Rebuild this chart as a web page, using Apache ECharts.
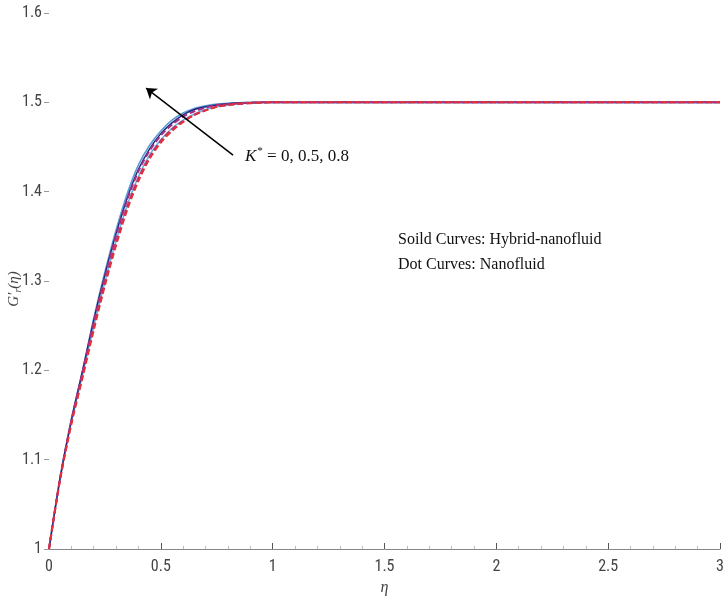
<!DOCTYPE html>
<html>
<head>
<meta charset="utf-8">
<script src="https://cdn.jsdelivr.net/npm/echarts@6/dist/echarts.min.js"></script>
<style>html,body{margin:0;padding:0;background:#fff}#c{width:724px;height:613px}</style>
</head>
<body>
<div id="c"></div>
<script>
// data
var eta = [0,0.05,0.1,0.15,0.2,0.25,0.3,0.35,0.4,0.45,0.5,0.55,0.6,0.65,0.7,0.75,0.8,0.85,0.9,0.95,1.0,1.1,1.2,1.5,2,2.5,3];
var hybridK08 = [1,1.080,1.145,1.200,1.258,1.310,1.357,1.398,1.430,1.452,1.468,1.480,1.488,1.493,1.496,1.498,1.499,1.4995,1.5,1.5,1.5,1.5,1.5,1.5,1.5,1.5,1.5];
var hybridK05 = [1,1.080,1.144,1.199,1.256,1.307,1.353,1.393,1.425,1.448,1.465,1.477,1.486,1.492,1.495,1.497,1.4985,1.4993,1.4997,1.5,1.5,1.5,1.5,1.5,1.5,1.5,1.5];
var nanoK08   = [1,1.080,1.144,1.198,1.254,1.305,1.351,1.391,1.423,1.446,1.463,1.475,1.484,1.490,1.494,1.497,1.498,1.499,1.4995,1.5,1.5,1.5,1.5,1.5,1.5,1.5,1.5];
var hybridK0  = [1,1.079,1.142,1.195,1.249,1.299,1.345,1.385,1.417,1.441,1.458,1.471,1.480,1.487,1.492,1.495,1.497,1.4985,1.4993,1.4997,1.5,1.5,1.5,1.5,1.5,1.5,1.5];
var nanoK05   = [1,1.079,1.141,1.194,1.248,1.298,1.343,1.383,1.415,1.439,1.457,1.470,1.479,1.486,1.491,1.495,1.497,1.498,1.499,1.4995,1.5,1.5,1.5,1.5,1.5,1.5,1.5];
var nanoK0    = [1,1.078,1.140,1.192,1.245,1.295,1.340,1.380,1.412,1.437,1.455,1.468,1.478,1.486,1.491,1.495,1.497,1.4985,1.4993,1.4997,1.5,1.5,1.5,1.5,1.5,1.5,1.5];
var arrowFrom = [0.823, 1.441];
var arrowTo = [0.434, 1.516];
var noteLines = ['Soild Curves: Hybrid-nanofluid', 'Dot Curves: Nanofluid'];

function pairs(v){ return eta.map(function(x,i){ return [x, v[i]]; }); }

var chart = echarts.init(document.getElementById('c'));
var tickFont = 'Liberation Sans Narrow, Roboto Condensed, Liberation Sans, Arial, sans-serif';
var serif = 'Liberation Serif, DejaVu Serif, serif';

function line(name, data, color, dashed, width){
  return {
    name: name, type: 'line', data: pairs(data), smooth: 0.3, showSymbol: false, symbol: 'none',
    lineStyle: {color: color, width: width || 1.6, type: dashed ? [6,3] : 'solid'},
    animation: false, z: dashed ? 3 : 2
  };
}

var series = [
  line('Hybrid K*=0.8', hybridK08, '#5b9bd5', false, 1.6),
  line('Hybrid K*=0', hybridK0, '#6cb4e4', false, 1.6),
  line('Hybrid K*=0.5', hybridK05, '#1a237e', false, 1.4),
  line('Nano K*=0.8', nanoK08, '#a0307f', true, 2),
  line('Nano K*=0.5', nanoK05, '#c0306a', true, 2),
  line('Nano K*=0', nanoK0, '#e0303a', true, 2)
];
series.push({
  type: 'line', data: [], silent: true, animation: false,
  markLine: {
    silent: true, symbol: ['none', 'arrow'], symbolSize: 10, animation: false,
    label: {show: false},
    lineStyle: {color: '#000', width: 1.5, type: 'solid'},
    data: [[{coord: arrowFrom}, {coord: arrowTo}]]
  }
});

chart.setOption({
  backgroundColor: '#fff',
  animation: false,
  grid: {left: 49, right: 4, top: 13, bottom: 64, containLabel: false, outerBoundsMode: 'none'},
  xAxis: {
    type: 'value', min: 0, max: 3, interval: 0.5,
    name: 'η', nameLocation: 'middle', nameGap: 27,
    nameTextStyle: {fontFamily: serif, fontStyle: 'italic', fontSize: 16, color: '#444'},
    axisLine: {show: true, lineStyle: {color: '#888', width: 1}},
    axisTick: {show: true, inside: true, length: 6, lineStyle: {color: '#555'}},
    minorTick: {show: true, splitNumber: 5, length: 3, lineStyle: {color: '#bbb'}},
    axisLabel: {fontFamily: tickFont, fontSize: 16, color: '#444', margin: 10, hideOverlap: false,
      formatter: function(v){ return String(+v.toFixed(1)); }},
    splitLine: {show: false}
  },
  yAxis: {
    type: 'value', min: 1, max: 1.6, interval: 0.1,
    axisLine: {show: false},
    axisTick: {show: true, inside: false, length: 5, lineStyle: {color: '#999'}},
    axisLabel: {fontFamily: tickFont, fontSize: 16, color: '#444', margin: 7,
      formatter: function(v){ return String(+v.toFixed(1)); }},
    splitLine: {show: false}
  },
  graphic: [
    {type: 'text', x: 14, y: 289, rotation: Math.PI / 2, style: {
      text: '{g|G′}{s|r}{g|(η)}', align: 'center', verticalAlign: 'middle',
      rich: {
        g: {fontFamily: serif, fontStyle: 'italic', fontSize: 15, fill: '#444', lineHeight: 18},
        s: {fontFamily: serif, fontStyle: 'italic', fontSize: 10, fill: '#444', lineHeight: 18, padding: [8,0,0,0]}
      }
    }},
    {type: 'text', left: 245, top: 146, style: {
      text: '{i|K}{s|*}{t| = 0, 0.5, 0.8}',
      rich: {
        i: {fontFamily: serif, fontStyle: 'italic', fontSize: 17, fill: '#111', lineHeight: 22},
        s: {fontFamily: serif, fontSize: 11, fill: '#111', lineHeight: 22, padding: [0,0,10,1]},
        t: {fontFamily: serif, fontSize: 17, fill: '#111', lineHeight: 22}
      }
    }},
    {type: 'text', left: 398, top: 232, style: {text: noteLines[0], fontFamily: serif, fontSize: 16, fill: '#111'}},
    {type: 'text', left: 398, top: 257, style: {text: noteLines[1], fontFamily: serif, fontSize: 16, fill: '#111'}}
  ],
  series: series
});
</script>
</body>
</html>
